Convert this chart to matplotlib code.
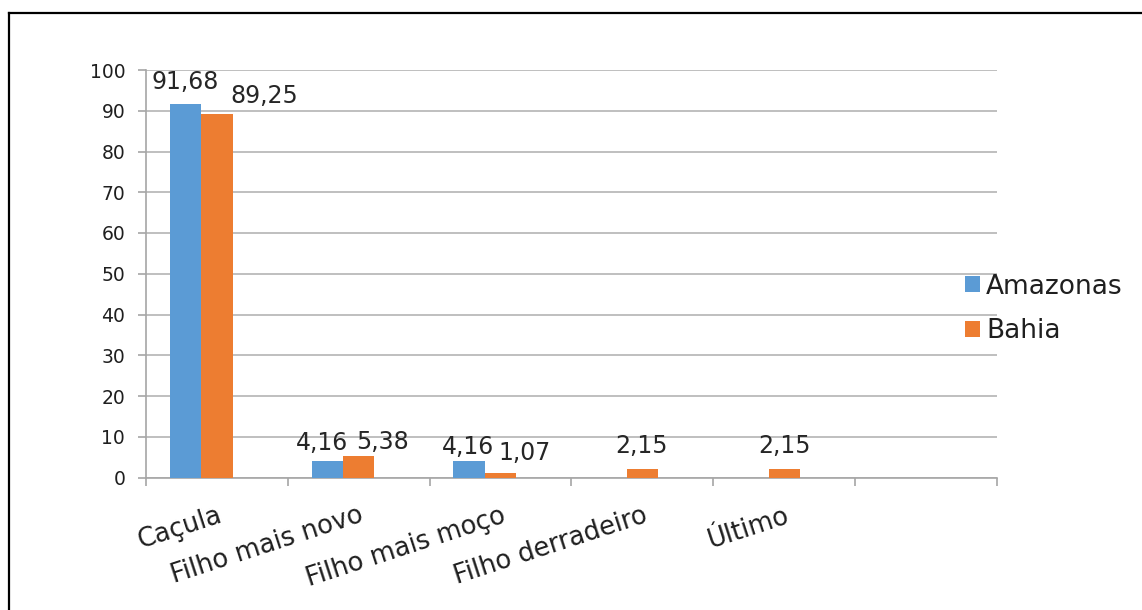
import numpy as np
import matplotlib
matplotlib.use("Agg")
import matplotlib.pyplot as plt
from matplotlib.lines import Line2D

# Data
categories = ["Caçula", "Filho mais novo", "Filho mais moço", "Filho derradeiro", "Último", ""]
amazonas = [91.68, 4.16, 4.16, None, None, None]
bahia = [89.25, 5.38, 1.07, 2.15, 2.15, None]
y_ticks = list(range(0, 101, 10))

# Label nudges (points) for each series, per category
amazonas_label_offsets = [(0, 5), (-4, 2), (-1, -1), (0, 0), (0, 0), (0, 0)]
bahia_label_offsets = [(34, 2), (17, -1), (17, 4), (-1, 6), (0, 6), (0, 0)]

BLUE = "#5b9bd5"
ORANGE = "#ed7d31"
GRID = "#b4b4b4"
TEXT = "#1f1f1f"

plt.rcParams["font.family"] = ["DejaVu Sans"]

W, H = 1142, 610
fig = plt.figure(figsize=(W / 100, H / 100), dpi=100)
ax = fig.add_axes([146 / W, 1 - 477.5 / H, (997 - 146) / W, (477.5 - 70) / H])

def to_arr(v):
    return np.array([np.nan if x is None else x for x in v], dtype=float)

am = to_arr(amazonas)
ba = to_arr(bahia)
x = np.arange(len(categories))
w = 0.222

bars_am = ax.bar(x - w, am, width=w, color=BLUE, label="Amazonas", zorder=3)
bars_ba = ax.bar(x, ba, width=w, color=ORANGE, label="Bahia", zorder=3)

def fmt(v):
    return f"{v:.2f}".replace(".", ",")

for xs, vals, offs in ((x - w, am, amazonas_label_offsets), (x, ba, bahia_label_offsets)):
    for xi, v, (dx, dy) in zip(xs, vals, offs):
        if np.isnan(v):
            continue
        ax.annotate(fmt(v), (xi, v), xytext=(dx, 2 + dy), textcoords="offset points",
                    ha="center", va="bottom", fontsize=17, color="#262626", zorder=4)

ax.set_xlim(-0.5, len(categories) - 0.5)
ax.set_ylim(0, 100)
ax.set_yticks(y_ticks)
ax.yaxis.grid(True, color=GRID, lw=1.2)
ax.set_axisbelow(True)

for s in ("top", "right"):
    ax.spines[s].set_visible(False)
for s in ("left", "bottom"):
    ax.spines[s].set_color("#a6a6a6")
    ax.spines[s].set_linewidth(1.2)

ax.set_xticks(x)
ax.set_xticklabels(categories, rotation=18, ha="right", rotation_mode="anchor",
                   fontsize=18.5, color=TEXT)
ax.tick_params(axis="x", which="major", length=0, pad=18)
ax.set_xticks(np.arange(-0.5, len(categories), 1), minor=True)
ax.tick_params(axis="x", which="minor", length=6, width=1.2, color="#a6a6a6", direction="out")
ax.tick_params(axis="y", length=6, width=1.2, color="#a6a6a6", labelsize=13.5,
               labelcolor=TEXT, pad=9)

leg = fig.legend(handles=[bars_am, bars_ba], labels=["Amazonas", "Bahia"],
                 loc="center left", bbox_to_anchor=(965 / W, 1 - 309 / H),
                 frameon=False, fontsize=19, handlelength=0.55, handleheight=0.55,
                 handletextpad=0.25, labelspacing=0.7, borderpad=0, borderaxespad=0)
for t in leg.get_texts():
    t.set_color(TEXT)

# Outer frame: top and left edges
fig.add_artist(Line2D([8.5 / W, 1.0], [1 - 12.5 / H] * 2, transform=fig.transFigure,
                      color="black", lw=1.6))
fig.add_artist(Line2D([8.5 / W] * 2, [0.0, 1 - 12.5 / H], transform=fig.transFigure,
                      color="black", lw=1.6))

fig.savefig("out.png", dpi=100, facecolor="white")
